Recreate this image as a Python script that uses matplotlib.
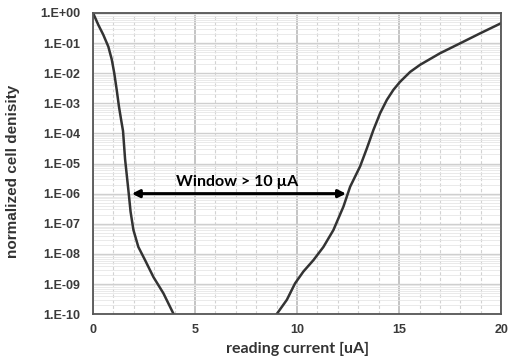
import matplotlib.pyplot as plt
from matplotlib.ticker import FixedLocator, LogLocator, NullFormatter

# Left distribution (low current state)
low_x = [0, 0.26, 0.50, 0.75, 0.92, 1.04, 1.16, 1.27, 1.37, 1.47, 1.57, 1.68,
         1.75, 1.84, 1.98, 2.22, 2.55, 2.96, 3.45, 3.95]
low_y = [1.0, 4.0e-1, 1.9e-1, 7.6e-2, 2.8e-2, 1.0e-2, 2.8e-3, 7.8e-4, 3.0e-4,
         1.2e-4, 1.4e-5, 2.8e-6, 1.0e-6, 2.5e-7, 6.2e-8, 1.7e-8, 6.2e-9, 1.7e-9,
         4.9e-10, 1.0e-10]

# Right distribution (high current state)
high_x = [9.0, 9.5, 9.90, 10.31, 10.80, 11.29, 11.78, 12.27, 12.6, 13.09, 13.42,
          13.74, 14.07, 14.40, 14.72, 15.05, 15.54, 16.03, 17.01, 17.99, 18.97, 19.98]
high_y = [1e-10, 3.0e-10, 1.05e-9, 2.6e-9, 6.2e-9, 1.7e-8, 6.2e-8, 3.7e-7, 1.7e-6,
          8.1e-6, 3.2e-5, 1.3e-4, 4.7e-4, 1.3e-3, 2.8e-3, 5.2e-3, 1.1e-2, 1.9e-2,
          4.6e-2, 9.8e-2, 2.1e-1, 4.5e-1]

# Read window arrow
window_start = 1.90
window_end = 12.4
window_level = 1e-6

y_ticks = [10.0 ** (-k) for k in range(0, 11)]
y_labels = ["1.E+00"] + ["1.E-%02d" % k for k in range(1, 11)]

fig = plt.figure(figsize=(5.14, 3.59), dpi=100)
ax = fig.add_axes([0.181, 0.125, 0.794, 0.839])

ax.set_yscale("log")
ax.set_xlim(0, 20)
ax.set_ylim(1e-10, 1)

# grid
ax.xaxis.set_major_locator(FixedLocator([0, 5, 10, 15, 20]))
ax.xaxis.set_minor_locator(FixedLocator([i for i in range(21) if i % 5]))
ax.yaxis.set_major_locator(FixedLocator(y_ticks))
ax.yaxis.set_minor_locator(LogLocator(base=10, subs=range(2, 10), numticks=20))
ax.yaxis.set_minor_formatter(NullFormatter())
ax.set_yticklabels(y_labels)

ax.grid(True, which="major", axis="x", color="#b4b4b4", lw=1.1)
ax.grid(True, which="minor", axis="x", color="#d2d2d2", lw=0.8, ls=(0, (3, 2)))
ax.grid(True, which="major", axis="y", color="#cfcfcf", lw=1.0)
ax.grid(True, which="minor", axis="y", color="#e6e6e6", lw=0.6)
ax.set_axisbelow(True)

ax.tick_params(which="both", length=0)
ax.tick_params(axis="both", labelsize=9, labelcolor="#3a3a3a")
ax.tick_params(axis="y", pad=9)
ax.tick_params(axis="x", pad=7)
for lab in ax.get_xticklabels() + ax.get_yticklabels():
    lab.set_fontweight("bold")
    lab.set_family("Liberation Sans")

for s in ax.spines.values():
    s.set_color("#555555")
    s.set_linewidth(1.3)

ax.plot(low_x, low_y, color="#333333", lw=1.8, solid_joinstyle="round")
ax.plot(high_x, high_y, color="#333333", lw=1.8, solid_joinstyle="round")

ax.annotate("", xy=(window_start, window_level), xytext=(window_end, window_level),
            arrowprops=dict(arrowstyle="<|-|>", color="black", lw=2.2,
                            mutation_scale=11, shrinkA=0, shrinkB=0))
ax.text((window_start + window_end) / 2 - 0.1, 1.85e-6, "Window > 10 \u00b5A",
        ha="center", va="baseline", fontsize=11.5, fontweight="bold", family="Lato")

ax.set_xlabel("reading current [uA]", fontsize=11.5, fontweight="bold",
              family="Lato", color="#333333", labelpad=4)
ax.set_ylabel("normalized cell denisity", fontsize=11, fontweight="bold",
              family="Liberation Sans", color="#333333")
ax.yaxis.set_label_coords(-0.179, 0.475)

fig.savefig("out.png", dpi=100)
